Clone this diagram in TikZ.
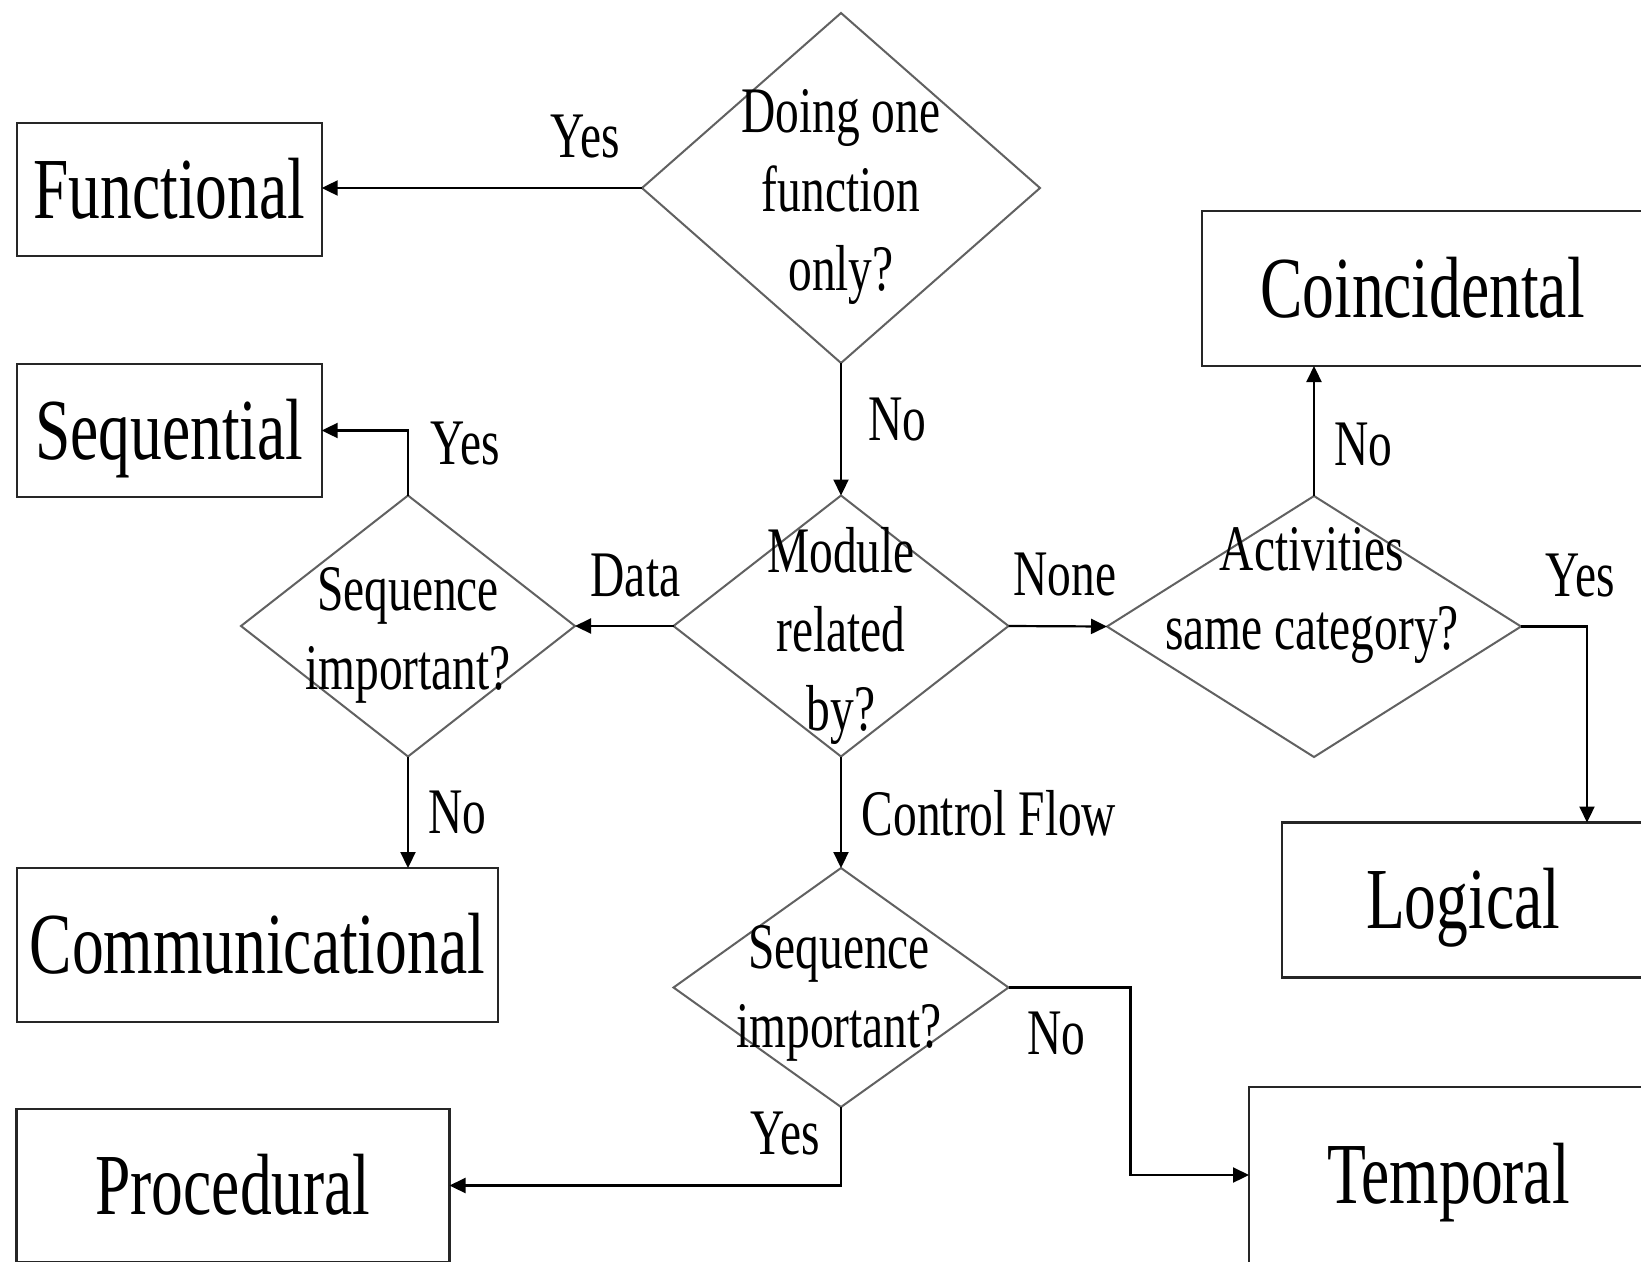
\documentclass[tikz,border=0pt]{standalone}
\usepackage{fontspec}
\newfontfamily\flowfont{Liberation Serif}[FakeStretch=0.73]
\usetikzlibrary{shapes.geometric,arrows.meta}

\begin{document}
\begin{tikzpicture}[x=1pt,y=-1pt,
  box/.style={draw=black!85, line width=2.4pt, rectangle, inner sep=0pt, outer sep=0pt,
    font=\flowfont\fontsize{87}{100}\selectfont, text height=57pt, text depth=0pt},
  dec/.style={draw=black!62, line width=2pt, diamond, inner sep=0pt, outer sep=0pt},
  qtext/.style={font=\flowfont\fontsize{65}{79}\selectfont, align=center, inner sep=0pt},
  lbl/.style={font=\flowfont\fontsize{65}{79}\selectfont, inner sep=0pt},
  flow/.style={draw=black, line width=2.2pt, -{Triangle[length=16pt,width=15pt]}},
]
\useasboundingbox (0,0) rectangle (1641,1261);
\fill[white] (0,0) rectangle (1641,1261);
\clip (0,0) rectangle (1641,1261);

% outcome boxes
\node[box, minimum width=305pt, minimum height=133pt] (func) at (169.2,189.5) {Functional};
\node[box, minimum width=305pt, minimum height=133pt] (seq)  at (169.2,430.5) {Sequential};
\node[box, minimum width=481pt, minimum height=154pt] (comm) at (257.3,945) {Communicational};
\node[box, minimum width=433pt, minimum height=153pt] (proc) at (233,1185.5) {Procedural};
\node[box, minimum width=441pt, minimum height=155pt] (coin) at (1422.5,288.5) {Coincidental};
\node[box, minimum width=362pt, minimum height=155pt] (logi) at (1463,900) {Logical};
\node[box, minimum width=399pt, minimum height=176pt] (temp) at (1448.5,1175) {Temporal};

% decisions
\node[dec, minimum width=398pt, minimum height=350pt] (q1) at (841,188) {};
\node[dec, minimum width=335pt, minimum height=261pt] (q2) at (841,626) {};
\node[dec, minimum width=334pt, minimum height=261pt] (q3) at (408,626) {};
\node[dec, minimum width=414pt, minimum height=261pt] (q4) at (1314,626.5) {};
\node[dec, minimum width=335pt, minimum height=239pt] (q5) at (841,987.5) {};

% questions
\node[qtext] (q1t) at (841,197) {Doing one\\function\\only?};
\node[qtext] (q2t) at (841,635.5) {Module\\related\\by?};
\node[qtext] (q3t) at (408,635.5) {Sequence\\important?};
\node[qtext] (q4t) at (1312,595.5) {Activities\\same category?};
\node[qtext] (q5t) at (839,993.5) {Sequence\\important?};

% connectors
\draw[flow] (q1.west) -- (q1.west -| func.east);
\draw[flow] (q1.south) -- (q2.north);
\draw[flow] (q2.west) -- (q3.east);
\draw[flow] (q2.east) -- (q4.west);
\draw[flow] (q4.north) -- (q4.north |- coin.south);
\draw[flow] (q4.east) -| ([xshift=124pt]logi.north);
\draw[flow] (q3.north) |- (seq.east);
\draw[flow] (q3.south) -- (q3.south |- comm.north);
\draw[flow] (q2.south) -- (q5.north);
\draw[flow] (q5.east) -- ++(122,0) |- (temp.west);
\draw[flow] (q5.south) |- (proc.east);

% branch labels
\node[lbl] (l1)  at (585.5,136.5) {Yes};
\node[lbl] (l2)  at (897.5,419.5) {No};
\node[lbl] (l3)  at (465.5,443.5) {Yes};
\node[lbl] (l4)  at (1363,444.5) {No};
\node[lbl] (l5)  at (635.5,576) {Data};
\node[lbl] (l6)  at (1065,575) {None};
\node[lbl] (l7)  at (1580,576) {Yes};
\node[lbl] (l8)  at (457,813) {No};
\node[lbl] (l9)  at (989,813) {Control Flow};
\node[lbl] (l10) at (1056,1034) {No};
\node[lbl] (l11) at (785,1133.5) {Yes};
\end{tikzpicture}
\end{document}
